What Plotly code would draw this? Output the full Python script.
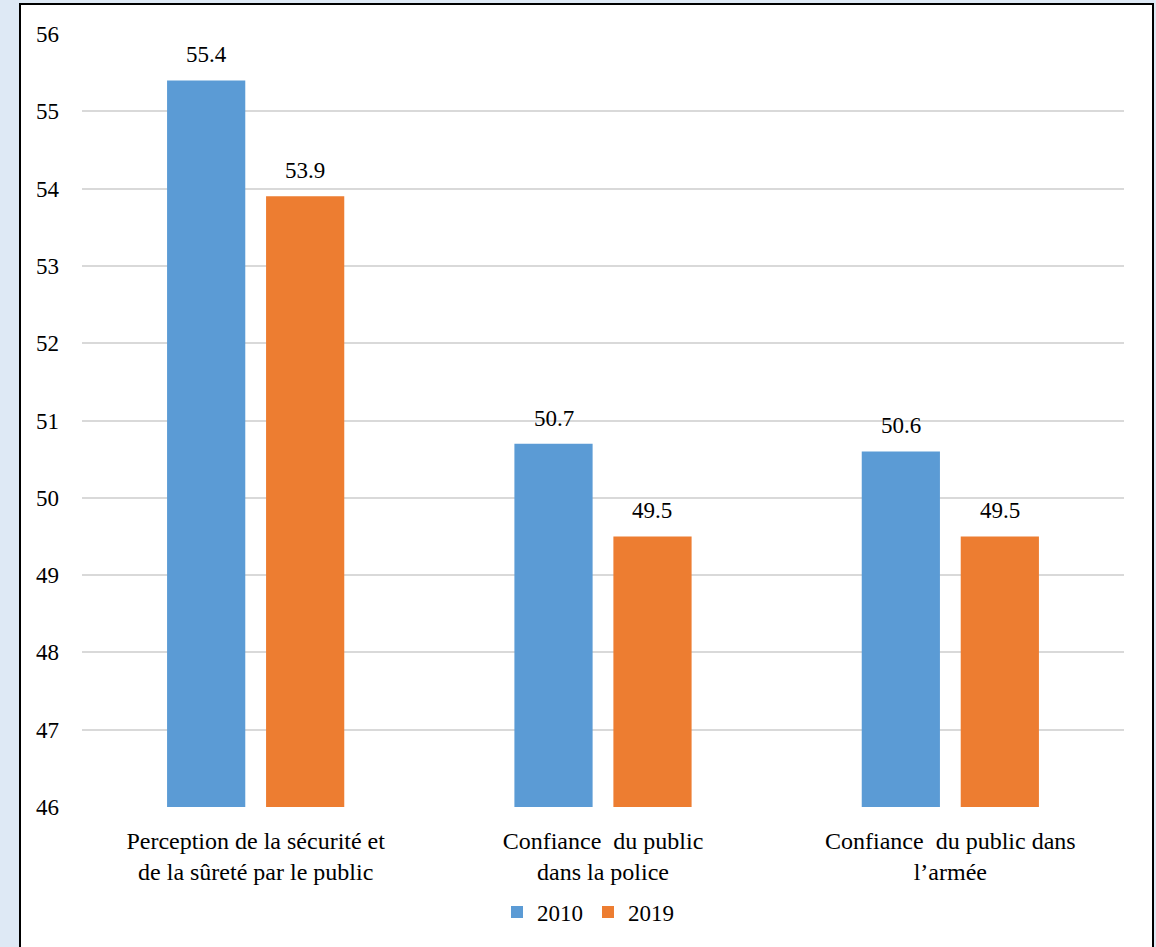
import plotly.graph_objects as go

categories = ["Perception de la sécurité et<br>de la sûreté par le public",
              "Confiance  du public<br>dans la police",
              "Confiance  du public dans<br>l’armée"]
series_names = ["2010", "2019"]
values_2010 = [55.4, 50.7, 50.6]
values_2019 = [53.9, 49.5, 49.5]
colors = ["#5B9BD5", "#ED7D31"]
y_ticks = [46, 47, 48, 49, 50, 51, 52, 53, 54, 55, 56]

W, H = 1156, 947
L, R, T, B = 82, 32, 34, 140
pw, ph = W - L - R, H - T - B
BARGAP, GROUPGAP = 0.43, 0.21

def px_x(x):
    return (x - L) / pw

def px_y(y):
    return (H - B - y) / ph

FONT = "'Liberation Serif', 'Times New Roman', Tinos, 'DejaVu Serif', serif"

fig = go.Figure()
for name, vals, col in zip(series_names, [values_2010, values_2019], colors):
    fig.add_trace(go.Bar(
        x=categories, y=vals, name=name, marker_color=col,
        marker_line_width=0, hoverinfo="x+y+name",
    ))

# value labels, shifted to each bar of the group
slot_px = pw / len(categories) * (1 - BARGAP) / len(series_names)
for i, vals in enumerate([values_2010, values_2019]):
    shift = (i - (len(series_names) - 1) / 2) * slot_px
    for c, v in zip(categories, vals):
        fig.add_annotation(x=c, y=v, xref="x", yref="y", text=f"{v:.1f}",
                           showarrow=False, yanchor="bottom", xshift=shift, yshift=11,
                           font=dict(family=FONT, size=23, color="#000000"))

fig.add_shape(type="rect", xref="paper", yref="paper",
              x0=px_x(20), x1=px_x(1153), y0=px_y(970), y1=px_y(4),
              fillcolor="white", line=dict(color="black", width=2), layer="below")

fig.update_layout(
    width=W, height=H,
    margin=dict(l=L, r=R, t=T, b=B),
    paper_bgcolor="#DEE9F5", plot_bgcolor="rgba(0,0,0,0)",
    barmode="group", bargap=BARGAP, bargroupgap=GROUPGAP,
    font=dict(family=FONT, size=23, color="#000000"),
    showlegend=True,
    legend=dict(orientation="h", x=px_x(588), xanchor="center", y=px_y(912), yanchor="middle",
                font=dict(family=FONT, size=23), itemwidth=30, traceorder="normal",
                bgcolor="rgba(0,0,0,0)"),
    xaxis=dict(showgrid=False, showline=False, zeroline=False, ticks="",
               tickfont=dict(family=FONT, size=24), ticklabelstandoff=17),
    yaxis=dict(range=[46, 56], tickvals=y_ticks, showgrid=True, gridcolor="#D9D9D9",
               gridwidth=1.5, zeroline=False, showline=False, ticks="",
               tickfont=dict(family=FONT, size=23), ticklabelstandoff=22),
)

fig.write_html("out.html")
